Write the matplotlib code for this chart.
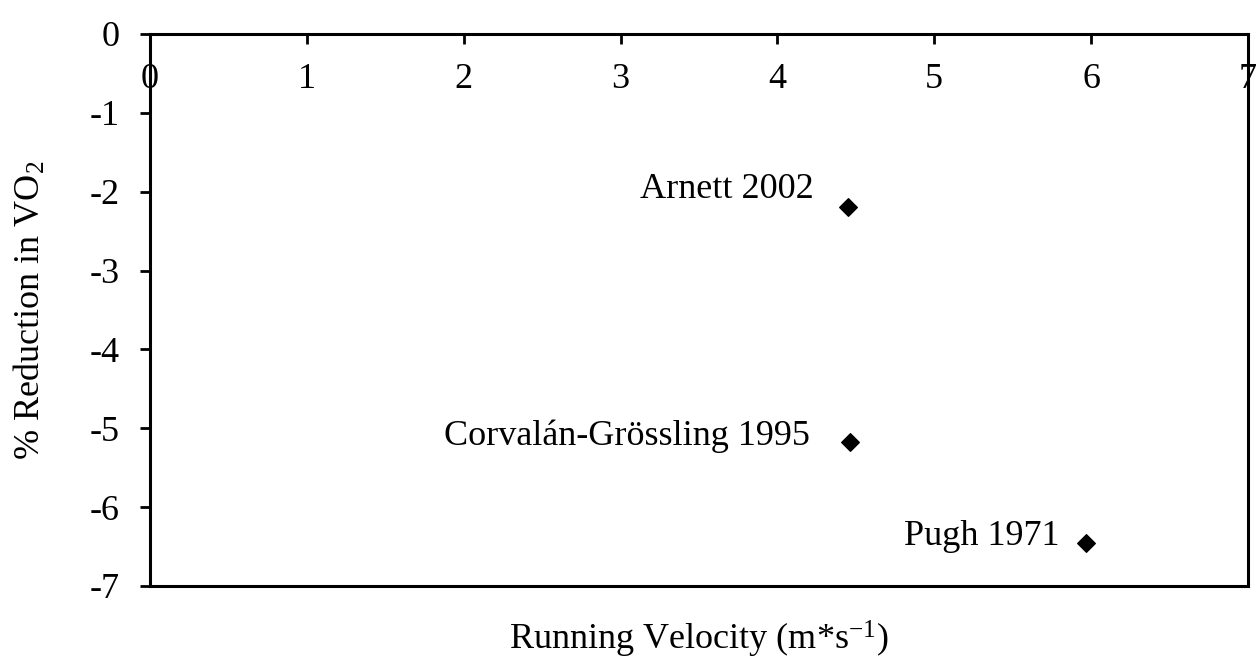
import matplotlib.pyplot as plt

# data
studies = ['Arnett 2002', 'Corvalán-Grössling 1995', 'Pugh 1971']
velocity = [4.45, 4.46, 5.97]
reduction = [-2.2, -5.18, -6.45]

x_ticks = [0, 1, 2, 3, 4, 5, 6, 7]
y_ticks = [0, -1, -2, -3, -4, -5, -6, -7]

# label offsets in pixels (dx, dy) relative to each point
label_offsets = [(-34, 18), (-40, 6), (-27, 6)]

plt.rcParams['font.family'] = ['Liberation Serif', 'DejaVu Serif']
plt.rcParams['mathtext.fontset'] = 'custom'
plt.rcParams['mathtext.rm'] = 'Liberation Serif'
plt.rcParams['mathtext.it'] = 'Liberation Serif:italic'

fig = plt.figure(figsize=(12.6, 6.65), dpi=100)
ax = fig.add_axes([150 / 1260, 1 - 586 / 665, 1098 / 1260, 552 / 665])

ax.scatter(velocity, reduction, marker='D', s=80, color='black', zorder=3)

for name, x, y, (dx, dy) in zip(studies, velocity, reduction, label_offsets):
    ax.annotate(name, (x, y), xytext=(dx * 0.72, dy * 0.72), textcoords='offset points',
                ha='right', va='center', fontsize=26)

ax.set_xlim(0, 7)
ax.set_ylim(-7, 0)
ax.set_xticks(x_ticks)
ax.set_yticks(y_ticks)
ax.set_yticklabels([str(v) for v in y_ticks])

# x ticks on the top spine, pointing in, labels inside the box
ax.xaxis.set_ticks_position('top')
ax.tick_params(axis='x', direction='in', length=7, width=2, labelsize=26, pad=-45)
ax.tick_params(axis='y', direction='out', length=7, width=2, labelsize=26, pad=15)

for sp in ax.spines.values():
    sp.set_linewidth(2.2)

ax.set_xlabel('Running Velocity (m*s$^{\\mathrm{-1}}$)', fontsize=26, labelpad=24)
ax.set_ylabel('% Reduction in VO$_{2}$', fontsize=26, labelpad=30)

fig.savefig('out.png', dpi=100)
